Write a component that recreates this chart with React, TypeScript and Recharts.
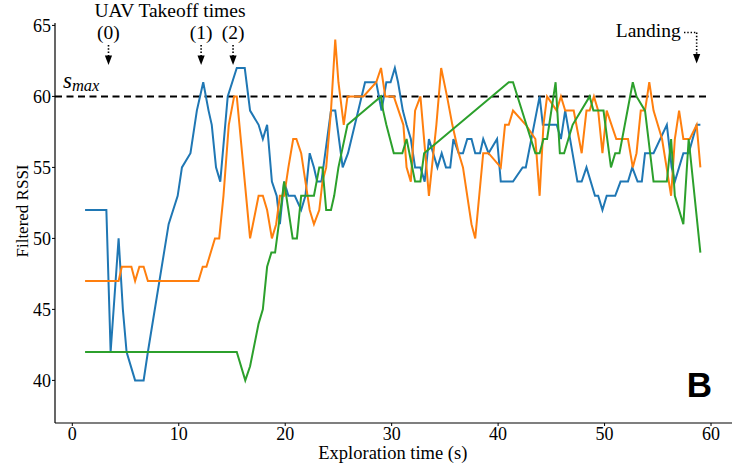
import React from 'react';
import { LineChart, Line, XAxis, YAxis, ReferenceLine } from 'recharts';

// ---- data ----
const blueT = [1.2, 3.2, 3.6, 4.35, 4.75, 5.1, 5.9, 6.7, 7.1, 9.05, 9.9, 10.3, 11.1, 11.7, 12.3, 12.8, 13.1, 13.5, 13.9, 14.6, 15.45, 16.2, 16.7, 17.5, 17.9, 18.3, 18.75, 19.2, 19.5, 19.9, 20.3, 20.9, 21.5, 21.9, 22.3, 22.7, 23.0, 23.4, 24.3, 24.7, 25.4, 25.9, 27.5, 28.55, 29.05, 29.5, 29.9, 30.3, 30.6, 31.05, 31.4, 31.8, 32.2, 32.7, 33.1, 33.5, 34.3, 34.7, 35.1, 35.5, 35.8, 36.3, 36.7, 37.1, 37.5, 37.85, 38.3, 38.6, 39.1, 39.9, 40.25, 41.4, 42.3, 42.6, 43.9, 44.2, 45.5, 45.9, 46.3, 47.45, 47.85, 48.3, 49.1, 49.4, 49.8, 50.2, 51.0, 51.5, 52.2, 52.6, 53.1, 53.5, 53.8, 54.6, 55.85, 56.3, 56.6, 57.4, 57.9, 58.65, 59.0];
const blueV = [52, 52, 42, 50, 45, 42, 40, 40, 42, 51, 53, 55, 56, 59, 61, 59, 58, 55, 54, 60, 62, 62, 59, 58, 57, 58, 54, 53, 51, 54, 53, 53, 52, 53, 56, 55, 54, 54, 59, 59, 55, 56, 61, 61, 59, 61, 61, 62, 61, 59, 58, 57, 55, 55, 54, 57, 55, 56, 55, 55, 57, 56, 56, 57, 57, 56, 56, 57, 56, 57, 54, 54, 55, 55, 60, 58, 58, 57, 59, 54, 54, 55, 53, 53, 52, 53, 53, 54, 54, 55, 54, 54, 56, 56, 58, 55, 54, 56, 56, 58, 58];

const orangeT = [1.2, 4.35, 4.65, 5.55, 5.9, 6.3, 6.7, 7.1, 11.85, 12.25, 12.6, 13.4, 13.8, 14.2, 14.7, 15.2, 15.45, 16.7, 17.5, 17.9, 18.3, 18.75, 19.15, 19.5, 19.9, 20.3, 20.75, 21.05, 21.5, 21.9, 22.3, 22.7, 23.2, 23.5, 23.85, 24.3, 24.7, 25.0, 25.5, 25.85, 27.35, 28.55, 29.0, 29.4, 30.2, 30.65, 31.1, 31.4, 31.8, 32.2, 32.7, 33.5, 34.2, 34.65, 35.2, 35.7, 36.3, 36.7, 37.5, 37.85, 38.6, 39.1, 40.25, 40.65, 41.0, 41.4, 42.6, 43.5, 43.9, 44.26, 44.6, 45.5, 45.9, 46.3, 47.1, 47.85, 48.3, 48.6, 49.0, 49.4, 49.8, 50.2, 51.1, 52.2, 52.65, 53.0, 53.4, 53.8, 54.2, 54.6, 55.4, 56.25, 56.6, 57.0, 57.4, 58.0, 58.65, 59.0];
const orangeV = [47, 47, 48, 48, 47, 48, 48, 47, 47, 48, 48, 50, 50, 53, 58, 60, 60, 50, 53, 53, 52, 50, 51, 53, 53, 55, 57, 57, 56, 54, 52, 51, 52, 54, 55, 59, 64, 61, 58, 60, 60, 61, 62, 60, 60, 59, 58, 55, 54, 59, 60, 53, 58, 62, 60, 58, 56, 55, 51, 50, 56, 56, 55, 58, 58, 59, 58, 57, 53, 58, 60, 59, 60, 59, 59, 56, 59, 59, 60, 59, 56, 59, 57, 57, 55, 56, 59, 59, 61, 59, 57, 53, 57, 59, 57, 57, 58, 55];

const greenT = [1.2, 15.45, 16.25, 16.7, 17.5, 17.9, 18.3, 18.7, 19.05, 19.4, 19.9, 20.7, 21.1, 21.5, 21.9, 22.7, 23.2, 23.5, 23.85, 24.3, 24.6, 25.0, 25.85, 29.0, 29.2, 29.5, 30.2, 31.0, 31.4, 32.2, 32.7, 33.05, 41.0, 41.4, 43.5, 43.9, 44.26, 44.6, 45.4, 45.8, 46.2, 47.0, 48.6, 48.95, 49.9, 50.6, 51.0, 51.4, 52.65, 53.0, 53.8, 54.6, 55.85, 56.25, 56.6, 57.4, 57.9, 59.0];
const greenV = [42, 42, 40, 41, 44, 45, 48, 49, 49, 51, 54, 50, 50, 53, 53, 53, 55, 55, 52, 52, 53, 55, 58, 60, 59, 58, 56, 56, 57, 54, 54, 56, 61, 61, 56, 56, 57, 57, 61, 56, 56, 58, 60, 59, 59, 55, 56, 56, 61, 60, 59, 54, 54, 57, 53, 51, 57, 49];

const xTicks = [0, 10, 20, 30, 40, 50, 60];
const yTicks = [40, 45, 50, 55, 60, 65];
const sMax = 60;
const sMaxEnd = 59.6;
const takeoffTimes = [3.4, 12.1, 15.1];
const takeoffLabels = ['(0)', '(1)', '(2)'];
const landingTime = 58.65;

// ---- layout ----
const W = 748;
const H = 472;
const MARGIN = { top: 23, right: 16, bottom: 0, left: 0 };
const Y_AXIS_W = 55;
const X_AXIS_H = 49;
const X_DOMAIN: [number, number] = [-1.625, 61.97];
const Y_DOMAIN: [number, number] = [37, 65.17];

const plotLeft = MARGIN.left + Y_AXIS_W;
const plotW = W - MARGIN.right - plotLeft;
const px = (t: number) => plotLeft + ((t - X_DOMAIN[0]) / (X_DOMAIN[1] - X_DOMAIN[0])) * plotW;

const toRows = (t: number[], v: number[]) => t.map((x, i) => ({ t: x, v: v[i] }));
const blueData = toRows(blueT, blueV);
const orangeData = toRows(orangeT, orangeV);
const greenData = toRows(greenT, greenV);

const SERIF = '"Liberation Serif", "Times New Roman", serif';
const tickStyle = { fill: '#000', fontSize: 18, fontFamily: SERIF };

const DOT = { stroke: '#000', strokeWidth: 1.6, strokeDasharray: '1.4 1.9', fill: 'none' } as const;

function ArrowDown({ x, y1, tip }: { x: number; y1: number; tip: number }) {
  return (
    <g>
      <line x1={x} y1={y1} x2={x} y2={tip - 8} {...DOT} />
      <polygon points={`${x - 3.6},${tip - 9.5} ${x + 3.6},${tip - 9.5} ${x},${tip}`} fill="#000" />
    </g>
  );
}

export default function App() {
  const landX = px(landingTime);
  return (
    <div style={{ position: 'absolute', left: 0, top: 0, width: W, height: H, background: '#fff' }}>
      <LineChart width={W} height={H} margin={MARGIN}>
        <XAxis
          dataKey="t"
          type="number"
          domain={X_DOMAIN}
          ticks={xTicks}
          allowDataOverflow
          height={X_AXIS_H}
          tickSize={3}
          tickMargin={1}
          axisLine={{ stroke: '#000', strokeWidth: 1.2 }}
          tickLine={{ stroke: '#000' }}
          tick={tickStyle}
        />
        <YAxis
          dataKey="v"
          type="number"
          domain={Y_DOMAIN}
          ticks={yTicks}
          allowDataOverflow
          width={Y_AXIS_W}
          tickSize={3}
          tickMargin={1}
          axisLine={{ stroke: '#000', strokeWidth: 1.2 }}
          tickLine={{ stroke: '#000' }}
          tick={tickStyle}
        />
        <ReferenceLine
          segment={[{ x: X_DOMAIN[0], y: sMax }, { x: sMaxEnd, y: sMax }]}
          stroke="#000"
          strokeWidth={2}
          strokeDasharray="7 4.5"
          ifOverflow="visible"
        />
        <Line data={blueData} dataKey="v" type="linear" stroke="#1f77b4" strokeWidth={2} dot={false} isAnimationActive={false} />
        <Line data={orangeData} dataKey="v" type="linear" stroke="#ff7f0e" strokeWidth={2} dot={false} isAnimationActive={false} />
        <Line data={greenData} dataKey="v" type="linear" stroke="#2ca02c" strokeWidth={2} dot={false} isAnimationActive={false} />
      </LineChart>
      <svg width={W} height={H} style={{ position: 'absolute', left: 0, top: 0, pointerEvents: 'none' }}>
        <text x={392.8} y={459} textAnchor="middle" fontFamily={SERIF} fontSize={18.5} fill="#000">
          Exploration time (s)
        </text>
        <text
          x={0}
          y={0}
          transform="translate(28,211) rotate(-90)"
          textAnchor="middle"
          fontFamily={SERIF}
          fontSize={17}
          fill="#000"
        >
          Filtered RSSI
        </text>
        <text x={170} y={16.7} textAnchor="middle" fontFamily={SERIF} fontSize={19.5} fill="#000">
          UAV Takeoff times
        </text>
        {takeoffTimes.map((t, i) => (
          <g key={i}>
            <text x={px(t)} y={39} textAnchor="middle" fontFamily={SERIF} fontSize={19.5} fill="#000">
              {takeoffLabels[i]}
            </text>
            <ArrowDown x={px(t)} y1={45} tip={65} />
          </g>
        ))}
        <text x={648.3} y={36.7} textAnchor="middle" fontFamily={SERIF} fontSize={19.5} fill="#000">
          Landing
        </text>
        <line x1={684} y1={32.5} x2={landX} y2={32.5} {...DOT} />
        <ArrowDown x={landX} y1={32.5} tip={63.5} />
        <text x={63} y={88} fontFamily={SERIF} fontStyle="italic" fill="#000">
          <tspan fontSize={23}>s</tspan>
          <tspan fontSize={16.5} dy={2.5}>max</tspan>
        </text>
        <text x={699.5} y={397} textAnchor="middle" fontFamily='"Liberation Sans", Arial, sans-serif' fontWeight="bold" fontSize={35} fill="#000">
          B
        </text>
      </svg>
    </div>
  );
}
